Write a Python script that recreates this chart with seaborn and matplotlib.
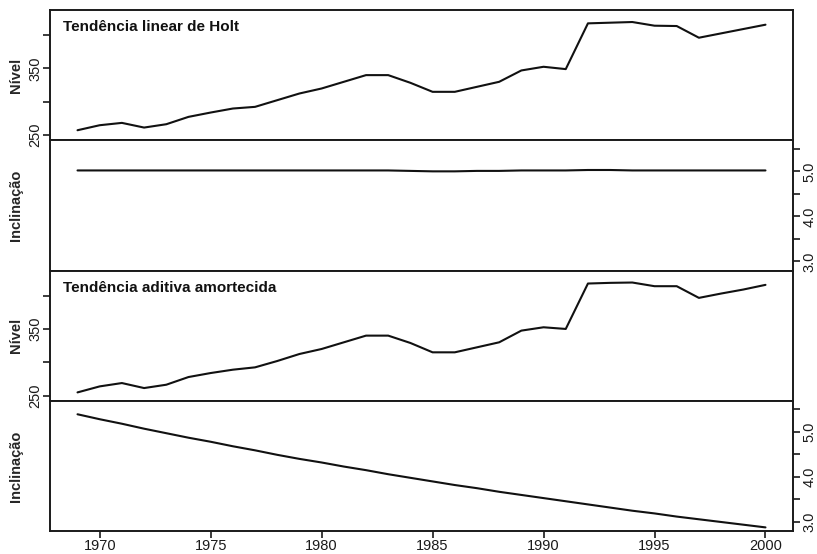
import numpy as np
import pandas as pd
import matplotlib
matplotlib.use("Agg")
import matplotlib.pyplot as plt
import seaborn as sns

# Estimated states (level and slope) of two exponential smoothing models
years = list(range(1969, 2001))

holt_level = [257.5, 265.0, 268.5, 261.5, 266.5, 277.5, 284.0, 290.0, 292.5, 302.5,
              312.5, 320.0, 330.0, 340.0, 340.0, 328.5, 315.0, 315.0, 322.5, 330.0,
              347.0, 352.5, 349.0, 417.5, 418.5, 419.5, 414.0, 413.5, 396.0, 402.5,
              409.0, 415.5]

holt_slope = [5.02, 5.02, 5.02, 5.02, 5.02, 5.02, 5.02, 5.02, 5.02, 5.02,
              5.02, 5.02, 5.02, 5.02, 5.02, 5.01, 5.00, 5.00, 5.01, 5.01,
              5.02, 5.02, 5.02, 5.03, 5.03, 5.02, 5.02, 5.02, 5.02, 5.02,
              5.02, 5.02]

damped_level = [255.0, 264.0, 269.0, 261.5, 266.5, 278.0, 284.0, 289.0, 292.5, 302.0,
                312.5, 320.0, 330.0, 340.0, 340.0, 329.0, 315.0, 315.0, 322.5, 330.0,
                347.5, 352.5, 350.0, 418.0, 419.0, 419.5, 414.0, 414.0, 396.5, 403.0,
                409.0, 416.0]

damped_slope = [5.39, 5.28, 5.18, 5.07, 4.97, 4.87, 4.78, 4.68, 4.59, 4.49,
                4.40, 4.32, 4.23, 4.15, 4.06, 3.98, 3.90, 3.82, 3.75, 3.67,
                3.60, 3.53, 3.46, 3.39, 3.32, 3.25, 3.19, 3.12, 3.06, 3.00,
                2.94, 2.88]

titles = ["Tendência linear de Holt", "Tendência aditiva amortecida"]
level_label = "Nível"
slope_label = "Inclinação"
level_ticks = [250, 300, 350, 400]
level_ticklabels = ["250", "", "350", ""]
slope_ticks = [3.0, 3.5, 4.0, 4.5, 5.0, 5.5]
slope_ticklabels = ["3.0", "", "4.0", "", "5.0", ""]
year_ticks = [1970, 1975, 1980, 1985, 1990, 1995, 2000]

sns.set_style("ticks")
plt.rcParams["font.family"] = ["Liberation Sans", "DejaVu Sans"]
plt.rcParams["axes.edgecolor"] = "#1a1a1a"
plt.rcParams["axes.linewidth"] = 1.4
plt.rcParams["xtick.color"] = "#1a1a1a"
plt.rcParams["ytick.color"] = "#1a1a1a"

W, H = 817, 554
fig = plt.figure(figsize=(W / 100, H / 100), dpi=100)
gs = fig.add_gridspec(4, 1, left=50 / W, right=793 / W,
                      top=1 - 10 / H, bottom=1 - 531 / H, hspace=0)
axes = [fig.add_subplot(gs[i, 0]) for i in range(4)]

panels = [
    (holt_level, "level", titles[0]),
    (holt_slope, "slope", None),
    (damped_level, "level", titles[1]),
    (damped_slope, "slope", None),
]

for i, (ax, (vals, kind, title)) in enumerate(zip(axes, panels)):
    df = pd.DataFrame({"ano": years, "valor": vals})
    sns.lineplot(data=df, x="ano", y="valor", ax=ax, color="#111111",
                 linewidth=1.5, estimator=None)
    ax.set_xlim(1967.76, 2001.24)
    ax.set_xlabel("")
    for sp in ax.spines.values():
        sp.set_visible(True)
        sp.set_linewidth(1.4)
        sp.set_color("#1a1a1a")

    if kind == "level":
        ax.set_ylim(242.5, 437.5)
        ax.set_yticks(level_ticks)
        ax.set_yticklabels(level_ticklabels, rotation=90, va="center", fontsize=10.5)
        ax.yaxis.tick_left()
        ax.tick_params(axis="y", direction="out", length=5, width=1.2, pad=0.5)
        ax.set_ylabel(level_label, fontsize=10.5, fontweight="bold", va="center")
    else:
        ax.set_ylim(2.80, 5.69)
        ax.set_yticks(slope_ticks)
        ax.set_yticklabels(slope_ticklabels, rotation=90, va="center", fontsize=10.5)
        ax.yaxis.tick_right()
        ax.tick_params(axis="y", direction="out", length=5, width=1.2, pad=2,
                       left=False, right=True, labelleft=False, labelright=True)
        ax.set_ylabel(slope_label, fontsize=10.5, fontweight="bold", va="center")
    ax.yaxis.set_label_coords(-(50 - 16) / 743, 0.5)

    if title:
        ax.text(13 / 743, 1 - 17 / 130, title, transform=ax.transAxes,
                ha="left", va="center", fontsize=11, fontweight="bold",
                color="#111111")

    if i < 3:
        ax.set_xticks([])
    else:
        ax.set_xticks(year_ticks)
        ax.set_xticklabels([str(y) for y in year_ticks], fontsize=10.5)
        ax.tick_params(axis="x", direction="out", length=5, width=1.2, pad=1)

fig.savefig("out.png", dpi=100, facecolor="white")
